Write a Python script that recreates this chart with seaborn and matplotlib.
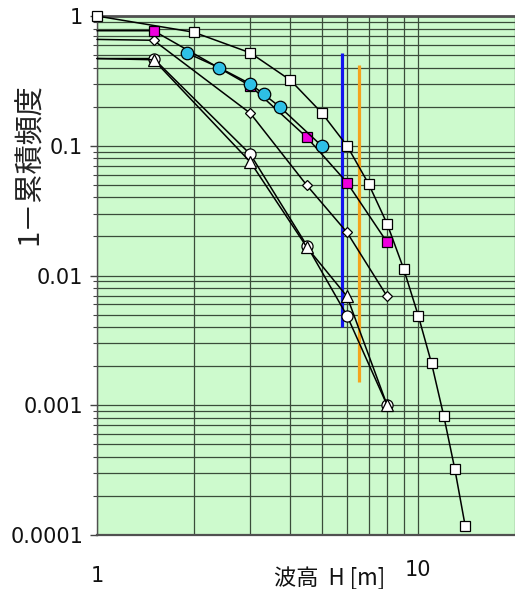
import numpy as np
import pandas as pd
import matplotlib
matplotlib.use("Agg")
import matplotlib.pyplot as plt
import matplotlib.transforms as mtransforms
import seaborn as sns
from matplotlib.ticker import FixedLocator, FixedFormatter, LogLocator, NullFormatter

# ---------------- data ----------------
h_sq = [1, 2, 3, 4, 5, 6, 7, 8, 9, 10, 11, 12, 13, 14]
p_sq = [1.0, 0.75, 0.52, 0.32, 0.18, 0.10, 0.051, 0.025, 0.0113,
        0.0049, 0.0021, 0.00083, 0.00032, 0.000117]

h_grp = [1, 1.5, 3, 4.5, 6, 8]
p_magenta = [0.77, 0.77, 0.29, 0.116, 0.052, 0.018]
p_diamond = [0.66, 0.65, 0.178, 0.0495, 0.0215, 0.0069]
p_circle = [0.47, 0.47, 0.086, 0.017, 0.0049, 0.001]
p_triangle = [0.47, 0.46, 0.075, 0.0165, 0.0069, 0.001]

h_cyan = [1.9, 2.4, 3.0, 3.3, 3.7, 5.0]
p_cyan = [0.52, 0.40, 0.30, 0.25, 0.20, 0.10]

vline_h = [5.8, 6.55]
vline_lo = [0.004, 0.0015]
vline_hi = [0.52, 0.42]
vline_colors = ["#1414f0", "#f5a31c"]

x_ticks = [1, 10]
x_ticklabels = ["1", "10"]
y_ticks = [0.0001, 0.001, 0.01, 0.1, 1]
y_ticklabels = ["0.0001", "0.001", "0.01", "0.1", "1"]

x_label = "波高  H [m]"
y_label = "1－累積頻度"

# ---------------- style ----------------
sns.set_style("white")
plt.rcParams["font.family"] = ["DejaVu Sans", "Noto Sans CJK JP"]
cjk = ["Noto Sans CJK JP", "DejaVu Sans"]

W, H = 515, 589
fig = plt.figure(figsize=(W / 100, H / 100), dpi=100)
fig.patch.set_facecolor("white")
ax = fig.add_axes([97 / W, (H - 535) / H, 418 / W, 519 / H])
ax.set_facecolor("#cdfacd")

ax.set_xscale("log")
ax.set_yscale("log")
ax.set_xlim(1, 20)
ax.set_ylim(1e-4, 1)

grid_c = "#3a4c3a"
ax.grid(which="both", color=grid_c, lw=0.9, zorder=0)
ax.set_axisbelow(True)

# vertical reference lines
for xv, lo, hi, c in zip(vline_h, vline_lo, vline_hi, vline_colors):
    ax.vlines(xv, lo, hi, color=c, lw=2.3, zorder=2)

line_kw = dict(color="black", lw=1.1, markeredgecolor="black",
               markeredgewidth=0.9, zorder=3, clip_on=False)

def draw(x, y, marker, ms, mfc, skip_first=True):
    df = pd.DataFrame({"h": x, "p": y})
    sns.lineplot(data=df, x="h", y="p", ax=ax, marker=marker, markersize=ms,
                 markerfacecolor=mfc, markevery=(slice(1, None) if skip_first else None),
                 sort=False, **line_kw)

draw(h_sq, p_sq, "s", 7.2, "white", skip_first=False)
draw(h_grp, p_diamond, "D", 5.2, "white")
draw(h_grp, p_circle, "o", 8.0, "white")
draw(h_grp, p_triangle, "^", 9.0, "white")
draw(h_grp, p_magenta, "s", 7.2, "#ee00dd")
draw(h_cyan, p_cyan, "o", 9.0, "#2ec0e6", skip_first=False)

# ticks
ax.xaxis.set_major_locator(FixedLocator(x_ticks))
ax.xaxis.set_major_formatter(FixedFormatter(x_ticklabels))
ax.xaxis.set_minor_formatter(NullFormatter())
ax.yaxis.set_major_locator(FixedLocator(y_ticks))
ax.yaxis.set_major_formatter(FixedFormatter(y_ticklabels))
ax.yaxis.set_minor_locator(LogLocator(base=10, subs=np.arange(2, 10)))
ax.yaxis.set_minor_formatter(NullFormatter())

ax.tick_params(axis="y", which="major", left=True, length=5, width=1,
               color="#444444", labelsize=15, pad=5, labelcolor="#111111")
ax.tick_params(axis="y", which="minor", left=True, length=3, width=0.8,
               color="#444444")
ax.tick_params(axis="x", which="both", bottom=False, length=0,
               labelsize=15, pad=22, labelcolor="#111111")

ax.set_xlabel("")
ax.set_ylabel("")

# the "10" label sits slightly higher than "1" in the reference
fig.canvas.draw()
xl = ax.get_xticklabels()
if len(xl) > 1:
    xl[1].set_transform(xl[1].get_transform() +
                        mtransforms.ScaledTranslation(0, 6 / 100, fig.dpi_scale_trans))

for s in ["left", "bottom", "top"]:
    ax.spines[s].set_visible(True)
    ax.spines[s].set_color("#505050")
ax.spines["left"].set_linewidth(1.0)
ax.spines["bottom"].set_linewidth(1.6)
ax.spines["top"].set_linewidth(2.0)
ax.spines["right"].set_visible(False)

fig.text(330 / W, 1 - 578 / H, x_label, family=cjk, fontsize=16,
         ha="center", va="center", color="#111111")
fig.text(30 / W, 1 - 164 / H, y_label, family=cjk, fontsize=21,
         rotation=90, ha="center", va="center", color="#222222")

fig.savefig("out.png", dpi=100, facecolor="white")
